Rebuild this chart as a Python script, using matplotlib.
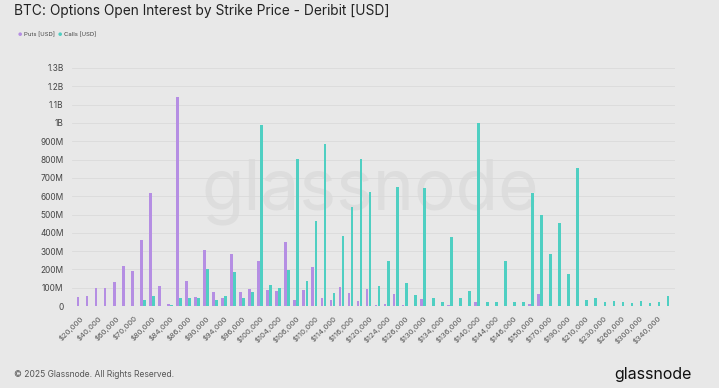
import numpy as np
import matplotlib
matplotlib.use('Agg')
import matplotlib.pyplot as plt

plt.rcParams['font.family'] = ['Inter', 'DejaVu Sans']

# Strikes (USD)
strikes = [20000, 30000, 40000, 50000, 60000, 65000, 70000, 75000, 80000, 82000,
           84000, 85000, 86000, 88000, 90000, 92000, 94000, 95000, 96000, 98000,
           100000, 102000, 104000, 105000, 106000, 108000, 110000, 112000, 114000, 115000,
           116000, 118000, 120000, 122000, 124000, 125000, 126000, 128000, 130000, 132000,
           134000, 135000, 136000, 138000, 140000, 142000, 144000, 145000, 146000, 148000,
           150000, 160000, 170000, 180000, 190000, 200000, 210000, 220000, 230000, 240000,
           260000, 280000, 300000, 320000, 340000, 360000]

# Open interest in millions of USD
puts_oi = [49, 58, 100, 100, 130, 221, 190, 360, 615, 110,
           9, 1140, 137, 49, 307, 78, 44, 287, 78, 95,
           245, 86, 82, 352, 36, 86, 215, 47, 36, 102,
           73, 27, 91, 7, 9, 64, 5, 3, 38, 0,
           0, 7, 0, 0, 20, 0, 0, 0, 0, 0,
           13, 68, 0, 0, 0, 0, 0, 0, 0, 0,
           0, 0, 0, 0, 0, 0]
calls_oi = [2, 1, 1, 1, 2, 3, 2, 33, 53, 0,
            8, 44, 44, 46, 200, 33, 55, 186, 42, 78,
            991, 115, 97, 197, 803, 137, 465, 885, 69, 380,
            540, 803, 624, 110, 245, 651, 126, 62, 642, 47,
            24, 378, 44, 80, 1000, 20, 24, 246, 24, 20,
            620, 498, 283, 453, 177, 752, 36, 42, 24, 27,
            22, 16, 26, 16, 24, 58]

put_color = '#b58ee3'
call_color = '#4fcfc2'
bg = '#e8e8e8'

fig = plt.figure(figsize=(7.19, 3.88), dpi=100, facecolor=bg)
ax = fig.add_axes([0.100, 0.211, 0.839, 0.614], facecolor=bg)

x = np.arange(len(strikes))
w = 0.3
ax.bar(x - 0.17, np.array(puts_oi) * 1e6, w, color=put_color, zorder=3)
ax.bar(x + 0.17, np.array(calls_oi) * 1e6, w, color=call_color, zorder=3)

ax.set_ylim(0, 1.3e9)
ax.set_xlim(-0.85, len(strikes) - 0.05)
yt = np.arange(0, 1.31e9, 1e8)
ylabels = []
for v in yt:
    if v == 0:
        ylabels.append('0')
    elif v >= 1e9:
        s = f'{v / 1e9:.1f}'.rstrip('0').rstrip('.')
        ylabels.append(s + 'B')
    else:
        ylabels.append(f'{int(v / 1e6)}M')
ax.set_yticks(yt)
ax.set_yticklabels(ylabels, fontsize=6, color='#444444')
ax.grid(axis='y', color='#dadada', lw=0.6, zorder=0)

ax.set_xticks(x[::2])
ax.set_xticklabels([f'${s:,}' for s in strikes[::2]], rotation=45, ha='right',
                   rotation_mode='anchor', fontsize=5.5, color='#555555')
ax.tick_params(length=0, pad=6)
for sp in ax.spines.values():
    sp.set_visible(False)

# watermark behind the bars
ax.text(0.515, 0.505, 'glassnode', transform=fig.transFigure, fontsize=50,
        color='#dddddd', ha='center', va='center', zorder=1)

fig.text(0.019, 0.972, 'BTC: Options Open Interest by Strike Price - Deribit [USD]',
         fontsize=9.9, color='#222222', va='center')
fig.text(0.025, 0.912, '●', fontsize=3.5, color=put_color, va='center')
fig.text(0.034, 0.912, 'Puts [USD]', fontsize=4.3, color='#444444', va='center')
fig.text(0.080, 0.912, '●', fontsize=3.5, color=call_color, va='center')
fig.text(0.089, 0.912, 'Calls [USD]', fontsize=4.3, color='#444444', va='center')

fig.text(0.019, 0.036, '© 2025 Glassnode. All Rights Reserved.', fontsize=6.1,
         color='#555555', va='center')
fig.text(0.962, 0.036, 'glassnode', fontsize=11.5, color='#111111', ha='right',
         va='center')

fig.savefig('out.png', dpi=100, facecolor=bg)
